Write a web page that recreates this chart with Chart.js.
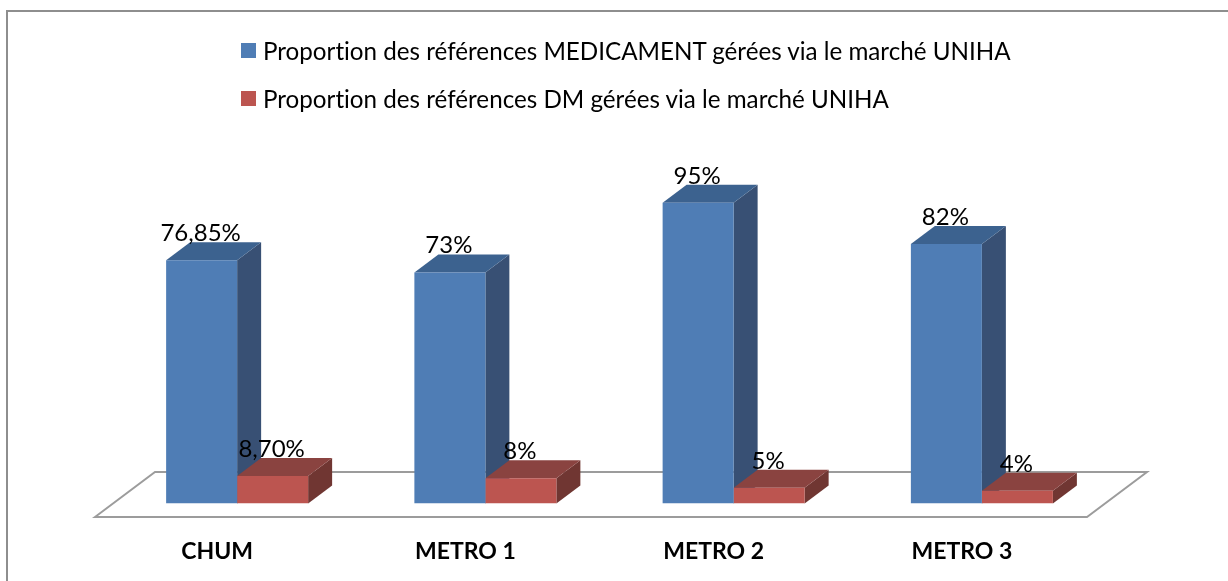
<!DOCTYPE html>
<html lang="fr">
<head>
    <meta charset="UTF-8">
    <title>Proportion des références gérées via le marché UNIHA</title>
    <script src="https://cdn.jsdelivr.net/npm/chart.js"></script>
    <style>
        html, body {
            margin: 0;
            background: #ffffff;
            overflow: hidden;
        }
        #frame {
            position: absolute;
            left: 6px;
            top: 10px;
            width: 1222px;
            height: 571px;
            border-left: 2px solid #8e8e8e;
            border-top: 2px solid #8e8e8e;
        }
        canvas {
            position: absolute;
            left: 0;
            top: 0;
        }
        #legend {
            position: absolute;
            left: 241px;
            top: 26.5px;
            font-family: Lato, sans-serif;
            font-size: 24.2px;
            font-variant-ligatures: none;
            color: #000000;
        }
        .legend-row {
            display: flex;
            align-items: center;
            height: 48px;
            white-space: nowrap;
        }
        .legend-box {
            width: 15px;
            height: 15px;
            margin-right: 7px;
        }
    </style>
</head>
<body>
    <div id="frame"></div>
    <canvas id="chart" width="1228" height="581"></canvas>
    <div id="legend"></div>

    <script>
        const categories = ['CHUM', 'METRO 1', 'METRO 2', 'METRO 3'];
        const seriesNames = [
            'Proportion des références MEDICAMENT gérées via le marché UNIHA',
            'Proportion des références DM gérées via le marché UNIHA'
        ];
        const medicamentValues = [76.85, 73, 95, 82];
        const dmValues = [8.7, 8, 5, 4];
        const medicamentLabels = ['76,85%', '73%', '95%', '82%'];
        const dmLabels = ['8,70%', '8%', '5%', '4%'];

        const frontColors = ['#4f7db5', '#bc5550'];
        const sideColors = ['#385074', '#703632'];
        const topColors = ['#3c628f', '#8a4340'];
        const valueLabels = [medicamentLabels, dmLabels];

        const DEPTH_X = 24;
        const DEPTH_Y = 18;

        function fillPoly(ctx, points, color) {
            ctx.beginPath();
            points.forEach((p, i) => i ? ctx.lineTo(p[0], p[1]) : ctx.moveTo(p[0], p[1]));
            ctx.closePath();
            ctx.fillStyle = color;
            ctx.fill();
        }

        // Floor and the side/top faces of the bars, under the front faces
        const depthPlugin = {
            id: 'depth',
            beforeDatasetsDraw(chart) {
                const ctx = chart.ctx;
                const area = chart.chartArea;
                ctx.save();

                ctx.beginPath();
                ctx.moveTo(area.left - 18, area.bottom + 13.5);
                ctx.lineTo(area.left + 42, area.bottom - 31.5);
                ctx.lineTo(area.right + 41, area.bottom - 31.5);
                ctx.lineTo(area.right - 19, area.bottom + 13.5);
                ctx.closePath();
                ctx.strokeStyle = '#9c9c9c';
                ctx.lineWidth = 2;
                ctx.stroke();

                chart.data.datasets.forEach((dataset, d) => {
                    chart.getDatasetMeta(d).data.forEach(bar => {
                        const left = bar.x - bar.width / 2;
                        const right = bar.x + bar.width / 2;
                        fillPoly(ctx, [
                            [right, bar.y],
                            [right + DEPTH_X, bar.y - DEPTH_Y],
                            [right + DEPTH_X, bar.base - DEPTH_Y],
                            [right, bar.base]
                        ], sideColors[d]);
                        fillPoly(ctx, [
                            [left, bar.y],
                            [left + DEPTH_X, bar.y - DEPTH_Y],
                            [right + DEPTH_X, bar.y - DEPTH_Y],
                            [right, bar.y]
                        ], topColors[d]);
                    });
                });
                ctx.restore();
            },
            afterDatasetsDraw(chart) {
                const ctx = chart.ctx;
                ctx.save();
                ctx.font = '24px Lato, sans-serif';
                ctx.fillStyle = '#000000';
                ctx.textAlign = 'center';
                ctx.textBaseline = 'alphabetic';
                chart.data.datasets.forEach((dataset, d) => {
                    chart.getDatasetMeta(d).data.forEach((bar, i) => {
                        ctx.fillText(valueLabels[d][i], bar.x - 1, bar.y - 19);
                    });
                });
                ctx.restore();
            }
        };

        const legendEl = document.getElementById('legend');
        seriesNames.forEach((name, i) => {
            const row = document.createElement('div');
            row.className = 'legend-row';
            const box = document.createElement('div');
            box.className = 'legend-box';
            box.style.background = frontColors[i];
            const label = document.createElement('span');
            label.textContent = name;
            row.appendChild(box);
            row.appendChild(label);
            legendEl.appendChild(row);
        });

        new Chart(document.getElementById('chart').getContext('2d'), {
            type: 'bar',
            data: {
                labels: categories,
                datasets: [
                    { label: seriesNames[0], data: medicamentValues, backgroundColor: frontColors[0] },
                    { label: seriesNames[1], data: dmValues, backgroundColor: frontColors[1] }
                ]
            },
            options: {
                responsive: false,
                animation: false,
                categoryPercentage: 0.572,
                barPercentage: 1,
                layout: {
                    padding: { top: 187, left: 113, right: 122, bottom: 0 }
                },
                plugins: {
                    legend: { display: false },
                    tooltip: { enabled: false }
                },
                scales: {
                    x: {
                        grid: { display: false },
                        border: { display: false },
                        afterFit: scale => { scale.height = 77.5; },
                        ticks: {
                            color: '#000000',
                            padding: 26,
                            labelOffset: -20,
                            maxRotation: 0,
                            font: { family: 'Lato, sans-serif', size: 23, weight: 'bold' }
                        }
                    },
                    y: {
                        display: false,
                        min: 0,
                        max: 100
                    }
                }
            },
            plugins: [depthPlugin]
        });
    </script>
</body>
</html>
